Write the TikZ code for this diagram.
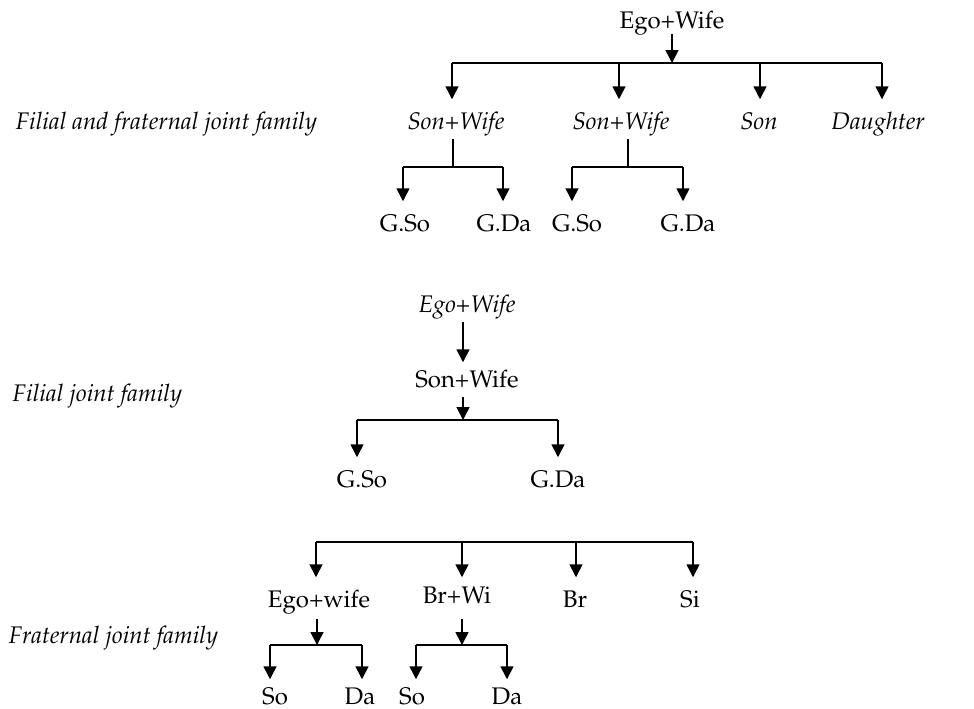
\documentclass[tikz,border=0pt]{standalone}
\usepackage[T1]{fontenc}
\usepackage{mathpazo}
\usetikzlibrary{arrows.meta}
\begin{document}
\begin{tikzpicture}[x=0.5pt,y=-0.5pt,
  line width=0.75pt,
  arr/.style={-{Triangle[width=6.5pt,length=6.5pt]}},
  lbl/.style={inner sep=0pt, anchor=base, text height=14.5pt, text depth=4.5pt,
              font=\fontsize{12}{14}\selectfont},
  ital/.style={lbl, font=\fontsize{12}{14}\selectfont\itshape},
  caption/.style={inner sep=0pt, anchor=base west,
              font=\fontsize{12}{14}\selectfont\itshape}]
\useasboundingbox (0,0) rectangle (974,708);

% ---------- Filial and fraternal joint family ----------
\node[caption] (cap1) at (15,129) {Filial and fraternal joint family};
\node[lbl, text depth=2.5pt] (ego1) at (672,28) {Ego+Wife};
\coordinate (t0) at (672,63);
\coordinate (t1) at (452,63);
\coordinate (t2) at (619,63);
\coordinate (t3) at (760,63);
\coordinate (t4) at (882,63);
\node[ital] (s1)  at (456,129) {Son+Wife};
\node[ital] (s2)  at (621,129) {Son+Wife};
\node[ital] (son) at (759,129) {Son};
\node[ital] (dau) at (878,129) {Daughter};
\draw[arr] (ego1.south) -- (t0);
\draw (t1) -- (t4);
\draw[arr] (t1) -- (t1 |- s1.north);
\draw[arr] (t2) -- (t2 |- s2.north);
\draw[arr] (t3) -- (t3 |- son.north);
\draw[arr] (t4) -- (t4 |- dau.north);

\coordinate (u1) at (453,167);
\coordinate (u1a) at (403,167);
\coordinate (u1b) at (503,167);
\node[lbl] (gso1) at (405,231) {G.So};
\node[lbl] (gda1) at (504,231) {G.Da};
\draw (s1.south -| u1) -- (u1);
\draw (u1a) -- (u1b);
\draw[arr] (u1a) -- (u1a |- gso1.north);
\draw[arr] (u1b) -- (u1b |- gda1.north);

\coordinate (u2) at (628,167);
\coordinate (u2a) at (572,167);
\coordinate (u2b) at (683,167);
\node[lbl] (gso2) at (577,231) {G.So};
\node[lbl] (gda2) at (688,231) {G.Da};
\draw (s2.south -| u2) -- (u2);
\draw (u2a) -- (u2b);
\draw[arr] (u2a) -- (u2a |- gso2.north);
\draw[arr] (u2b) -- (u2b |- gda2.north);

% ---------- Filial joint family ----------
\node[caption] (cap2) at (12,401) {Filial joint family};
\node[ital] (ego2) at (467,312) {Ego+Wife};
\node[lbl, text height=12pt] (son2) at (467,387) {Son+Wife};
\coordinate (m0) at (463,420);
\coordinate (m1) at (357,420);
\coordinate (m2) at (558,420);
\node[lbl] (gso3) at (362,487) {G.So};
\node[lbl] (gda3) at (558,487) {G.Da};
\draw[arr] (ego2.south -| m0) -- (son2.north -| m0);
\draw[arr] (son2.south -| m0) -- (m0);
\draw (m1) -- (m2);
\draw[arr] (m1) -- (m1 |- gso3.north);
\draw[arr] (m2) -- (m2 |- gda3.north);

% ---------- Fraternal joint family ----------
\node[caption] (cap3) at (8,643) {Fraternal joint family};
\coordinate (b1) at (316,542);
\coordinate (b2) at (462,542);
\coordinate (b3) at (576,542);
\coordinate (b4) at (693,542);
\node[lbl, text depth=5.5pt] (ego3) at (319,607) {Ego+wife};
\node[lbl, text height=12.5pt, text depth=7.5pt] (brwi) at (457,603) {Br+Wi};
\node[lbl] (br) at (575,607) {Br};
\node[lbl] (si) at (690,607) {Si};
\draw (b1) -- (b4);
\draw[arr] (b1) -- (b1 |- ego3.north);
\draw[arr] (b2) -- (b2 |- brwi.north);
\draw[arr] (b3) -- (b3 |- br.north);
\draw[arr] (b4) -- (b4 |- si.north);

\coordinate (c1) at (317,645);
\coordinate (c1a) at (270,645);
\coordinate (c1b) at (362,645);
\node[lbl, text height=12pt] (so1) at (275,704) {So};
\node[lbl, text height=12pt] (da1) at (360,704) {Da};
\draw[arr] (ego3.south -| c1) -- (c1);
\draw (c1a) -- (c1b);
\draw[arr] (c1a) -- (c1a |- so1.north);
\draw[arr] (c1b) -- (c1b |- da1.north);

\coordinate (c2) at (462,645);
\coordinate (c2a) at (416,645);
\coordinate (c2b) at (507,645);
\node[lbl, text height=12pt] (so2) at (412,704) {So};
\node[lbl, text height=12pt] (da2) at (507,704) {Da};
\draw[arr] (brwi.south -| c2) -- (c2);
\draw (c2a) -- (c2b);
\draw[arr] (c2a) -- (c2a |- so2.north);
\draw[arr] (c2b) -- (c2b |- da2.north);
\end{tikzpicture}
\end{document}
